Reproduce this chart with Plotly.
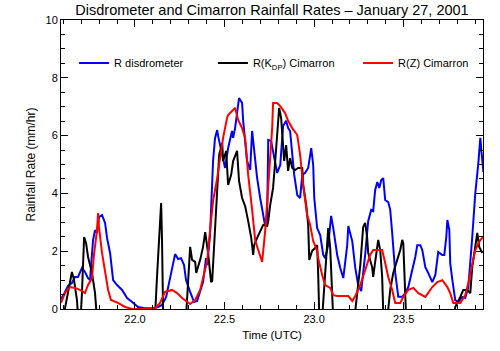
import plotly.graph_objects as go

# R disdrometer
t_disd = [21.587, 21.604, 21.626, 21.648, 21.665, 21.682, 21.704, 21.721, 21.738, 21.749,
          21.766, 21.777, 21.788, 21.799, 21.816, 21.833, 21.844, 21.861, 21.878, 21.900,
          21.928, 21.956, 21.984, 22.017, 22.056, 22.095, 22.129, 22.151, 22.174, 22.196,
          22.224, 22.241, 22.257, 22.274, 22.285, 22.308, 22.330, 22.347, 22.369, 22.380,
          22.397, 22.403, 22.419, 22.431, 22.436, 22.447, 22.459, 22.464, 22.487, 22.503,
          22.520, 22.542, 22.548, 22.559, 22.570, 22.581, 22.598, 22.604, 22.626, 22.643,
          22.654, 22.660, 22.682, 22.699, 22.716, 22.727, 22.738, 22.744, 22.760, 22.783,
          22.794, 22.811, 22.827, 22.844, 22.855, 22.866, 22.878, 22.889, 22.906, 22.922,
          22.934, 22.950, 22.967, 22.984, 22.995, 23.001, 23.017, 23.034, 23.051, 23.062,
          23.079, 23.095, 23.107, 23.129, 23.146, 23.163, 23.185, 23.191, 23.213, 23.230,
          23.246, 23.263, 23.285, 23.302, 23.319, 23.330, 23.341, 23.353, 23.364, 23.375,
          23.386, 23.397, 23.414, 23.425, 23.436, 23.453, 23.470, 23.492, 23.509, 23.526,
          23.548, 23.565, 23.576, 23.593, 23.604, 23.621, 23.637, 23.660, 23.677, 23.693,
          23.716, 23.727, 23.738, 23.744, 23.755, 23.760, 23.772, 23.788, 23.805, 23.827,
          23.844, 23.861, 23.883, 23.900, 23.917, 23.922, 23.928, 23.939, 23.945]
r_disd = [0.35, 0.52, 0.80, 0.90, 1.11, 1.11, 1.42, 1.28, 1.07, 1.00,
          2.39, 2.73, 2.63, 3.18, 3.25, 2.98, 2.46, 1.94, 1.00, 0.83,
          0.66, 0.38, 0.24, 0.07, 0.03, 0.03, 0.07, 0.14, 0.42, 1.11,
          1.90, 1.73, 1.76, 1.52, 1.00, 0.59, 0.24, 0.28, 0.76, 0.93,
          1.76, 1.52, 2.56, 4.19, 5.12, 5.92, 6.19, 5.99, 5.33, 4.88,
          5.57, 6.16, 5.92, 6.26, 6.78, 7.30, 7.13, 6.51, 5.12, 4.81,
          6.16, 5.81, 4.53, 3.84, 3.15, 2.87, 3.15, 5.85, 5.81, 5.12,
          4.71, 4.98, 6.33, 6.51, 6.26, 6.16, 5.47, 4.64, 3.94, 3.84,
          4.64, 4.71, 4.88, 5.57, 4.98, 3.84, 2.80, 2.56, 1.87, 1.76,
          2.21, 3.22, 2.80, 1.87, 1.42, 1.07, 2.21, 2.87, 2.35, 1.42,
          0.83, 0.62, 1.87, 3.04, 3.43, 3.39, 4.12, 4.39, 4.19, 4.46,
          4.53, 3.77, 3.70, 3.43, 2.63, 1.25, 0.42, 0.42, 0.55, 0.76,
          1.35, 1.80, 2.21, 2.21, 2.04, 1.45, 1.25, 0.93, 1.18, 1.97,
          1.87, 1.87, 2.49, 3.08, 2.73, 1.59, 1.00, 0.31, 0.24, 0.42,
          0.38, 0.76, 2.49, 4.01, 5.05, 5.61, 5.92, 5.15, 4.74]

# R(KDP) Cimarron
t_kdp = [21.593, 21.621, 21.637, 21.648, 21.660, 21.676, 21.685, 21.695, 21.704, 21.710,
         21.716, 21.727, 21.738, 21.760, 21.777, 21.790,
         22.110, 22.123, 22.135, 22.146, 22.151, 22.158,
         22.283, 22.297, 22.308, 22.319, 22.336, 22.342, 22.364, 22.380, 22.392, 22.408,
         22.425, 22.431, 22.447, 22.459, 22.470, 22.487, 22.492, 22.509, 22.520, 22.537,
         22.548, 22.570, 22.581, 22.598, 22.615, 22.632, 22.649, 22.660, 22.665, 22.682,
         22.699, 22.716, 22.738, 22.744, 22.755, 22.771, 22.783, 22.794, 22.805, 22.816,
         22.827, 22.833, 22.844, 22.855, 22.866, 22.878, 22.894, 22.911, 22.934, 22.939,
         22.956, 22.967, 22.973, 22.989, 23.006, 23.017, 23.023, 23.030, 23.043, 23.062,
         23.079, 23.090, 23.101, 23.108,
         23.222, 23.241, 23.258, 23.274, 23.285, 23.296, 23.302, 23.324, 23.330, 23.341,
         23.358, 23.369, 23.380, 23.388,
         23.406, 23.425, 23.442, 23.464, 23.481, 23.492, 23.498, 23.503, 23.515,
         23.775, 23.788, 23.816, 23.833, 23.855, 23.872, 23.883, 23.900, 23.911, 23.922,
         23.939]
r_kdp = [-0.5, 0.42, 1.00, 1.28, 1.00, 0.31, -0.5, -0.5, 0.55, 1.70,
         2.49, 2.28, 1.80, 1.25, 0.55, -0.5,
         -0.5, 1.11, 2.73, 3.67, 2.39, -0.5,
         -0.5, 1.18, 2.15, 1.70, 1.63, 1.25, 1.70, 2.15, 2.66, 1.94,
         0.93, 0.97, 2.70, 4.19, 5.33, 5.74, 5.12, 5.47, 4.29, 4.64,
         5.12, 5.47, 4.43, 3.84, 3.56, 3.04, 2.46, 1.87, 2.21, 2.46,
         2.70, 2.91, 2.87, 3.04, 3.60, 4.19, 5.12, 5.92, 6.96, 6.61,
         5.33, 5.12, 5.67, 4.78, 5.22, 4.88, 4.81, 4.88, 4.88, 4.29,
         3.60, 2.91, 1.70, 2.01, 2.11, 2.21, 1.18, -0.5, -0.5, 1.18,
         2.80, 2.11, 0.73, -0.5,
         -0.5, 0.66, 1.52, 2.84, 2.98, 2.49, 1.94, 1.45, 1.11, 1.63,
         2.39, 2.04, 1.11, -0.5,
         -0.5, 0.66, 1.25, 1.70, 2.04, 2.39, 2.28, 1.45, -0.5,
         -0.5, 0.07, 0.42, 0.66, 0.66, 0.55, 1.45, 2.28, 2.63, 2.15,
         1.94]

# R(Z) Cimarron
t_z = [21.587, 21.609, 21.637, 21.665, 21.693, 21.721, 21.738, 21.760, 21.771, 21.788,
       21.794, 21.799, 21.816, 21.833, 21.850, 21.866, 21.905, 21.945, 21.984, 22.056,
       22.112, 22.140, 22.168, 22.207, 22.235, 22.263, 22.291, 22.308, 22.336, 22.364,
       22.380, 22.403, 22.419, 22.436, 22.459, 22.475, 22.492, 22.514, 22.520, 22.542,
       22.559, 22.576, 22.598, 22.615, 22.632, 22.654, 22.671, 22.688, 22.710, 22.727,
       22.744, 22.766, 22.771, 22.794, 22.811, 22.838, 22.855, 22.878, 22.906, 22.922,
       22.939, 22.950, 22.961, 22.978, 22.995, 23.017, 23.023, 23.045, 23.062, 23.090,
       23.107, 23.129, 23.191, 23.213, 23.230, 23.258, 23.285, 23.313, 23.330, 23.358,
       23.380, 23.397, 23.414, 23.436, 23.453, 23.481, 23.498, 23.526, 23.554, 23.582,
       23.621, 23.660, 23.688, 23.716, 23.744, 23.760, 23.777, 23.816, 23.844, 23.861,
       23.883, 23.900, 23.928, 23.945]
r_z = [0.21, 0.55, 0.76, 0.73, 0.66, 0.55, 0.83, 1.07, 1.87, 2.73,
       3.32, 2.84, 1.94, 1.25, 0.66, 0.31, 0.21, 0.07, 0.00, 0.00,
       0.03, 0.21, 0.59, 0.66, 0.55, 0.38, 0.24, 0.17, 0.31, 0.66,
       1.07, 1.66, 2.70, 3.74, 4.53, 5.22, 5.92, 6.61, 6.71, 6.85,
       6.96, 6.54, 6.26, 5.92, 4.64, 3.43, 2.39, 2.04, 1.63, 2.70,
       4.19, 6.26, 7.13, 7.13, 7.02, 6.78, 6.51, 6.26, 6.02, 5.33,
       4.29, 3.84, 3.25, 2.91, 2.35, 2.01, 1.76, 1.18, 0.83, 0.73,
       0.48, 0.45, 0.45, 0.28, 0.45, 0.83, 1.31, 1.87, 2.04, 2.04,
       2.04, 1.59, 1.11, 0.66, 0.21, 0.21, 0.42, 0.66, 0.73, 0.55,
       0.42, 0.76, 0.93, 1.00, 0.76, 0.55, 0.21, 0.21, 0.48, 0.90,
       1.59, 2.04, 2.39, 2.49]

x_tickvals = [22.0, 22.5, 23.0, 23.5]
x_ticktext = ["22.0", "22.5", "23.0", "23.5"]
y_tickvals = [0, 2, 4, 6, 8, 10]

FONT = "Liberation Sans"

fig = go.Figure()
fig.add_trace(go.Scatter(x=t_disd, y=r_disd, mode="lines", name="R disdrometer",
                         line=dict(color="#0000ff", width=2), legend="legend"))
fig.add_trace(go.Scatter(x=t_kdp, y=r_kdp, mode="lines", name="R(K<sub>DP</sub>) Cimarron",
                         line=dict(color="#000000", width=2), legend="legend2"))
fig.add_trace(go.Scatter(x=t_z, y=r_z, mode="lines", name="R(Z) Cimarron",
                         line=dict(color="#ff0000", width=2), legend="legend3"))

axis_common = dict(showline=True, linecolor="black", linewidth=1, mirror="ticks",
                   ticks="inside", ticklen=7, tickwidth=1, tickcolor="black",
                   showgrid=False, zeroline=False,
                   tickfont=dict(family=FONT, size=11, color="black"))

fig.update_xaxes(range=[21.587, 23.943], tickvals=x_tickvals, ticktext=x_ticktext,
                 minor=dict(ticks="inside", ticklen=4, dtick=0.1, tick0=22.0, tickcolor="black", showgrid=False),
                 title=dict(text="Time (UTC)", font=dict(family=FONT, size=11.5, color="black"), standoff=6),
                 **axis_common)
fig.update_yaxes(range=[0, 10], tickvals=y_tickvals,
                 minor=dict(ticks="inside", ticklen=4, dtick=0.5, tick0=0, tickcolor="black", showgrid=False),
                 title=dict(text="Rainfall Rate (mm/hr)", font=dict(family=FONT, size=12, color="black"), standoff=7),
                 **axis_common)

legend_common = dict(orientation="h", xanchor="left", y=0.851, yanchor="middle",
                     bgcolor="rgba(0,0,0,0)", borderwidth=0, itemwidth=30,
                     font=dict(family=FONT, size=11, color="black"))

fig.update_layout(
    width=500, height=351,
    margin=dict(l=61, r=17, t=20, b=42),
    paper_bgcolor="white", plot_bgcolor="white",
    title=dict(text="Disdrometer and Cimarron Rainfall Rates \u2013 January 27, 2001",
               x=0.544, xanchor="center", y=1 - 10 / 351, yanchor="middle", yref="container",
               font=dict(family=FONT, size=14.5, color="black")),
    legend=dict(x=0.031, **legend_common),
    legend2=dict(x=0.360, **legend_common),
    legend3=dict(x=0.704, **legend_common),
    showlegend=True,
)

fig.write_html("out.html")
